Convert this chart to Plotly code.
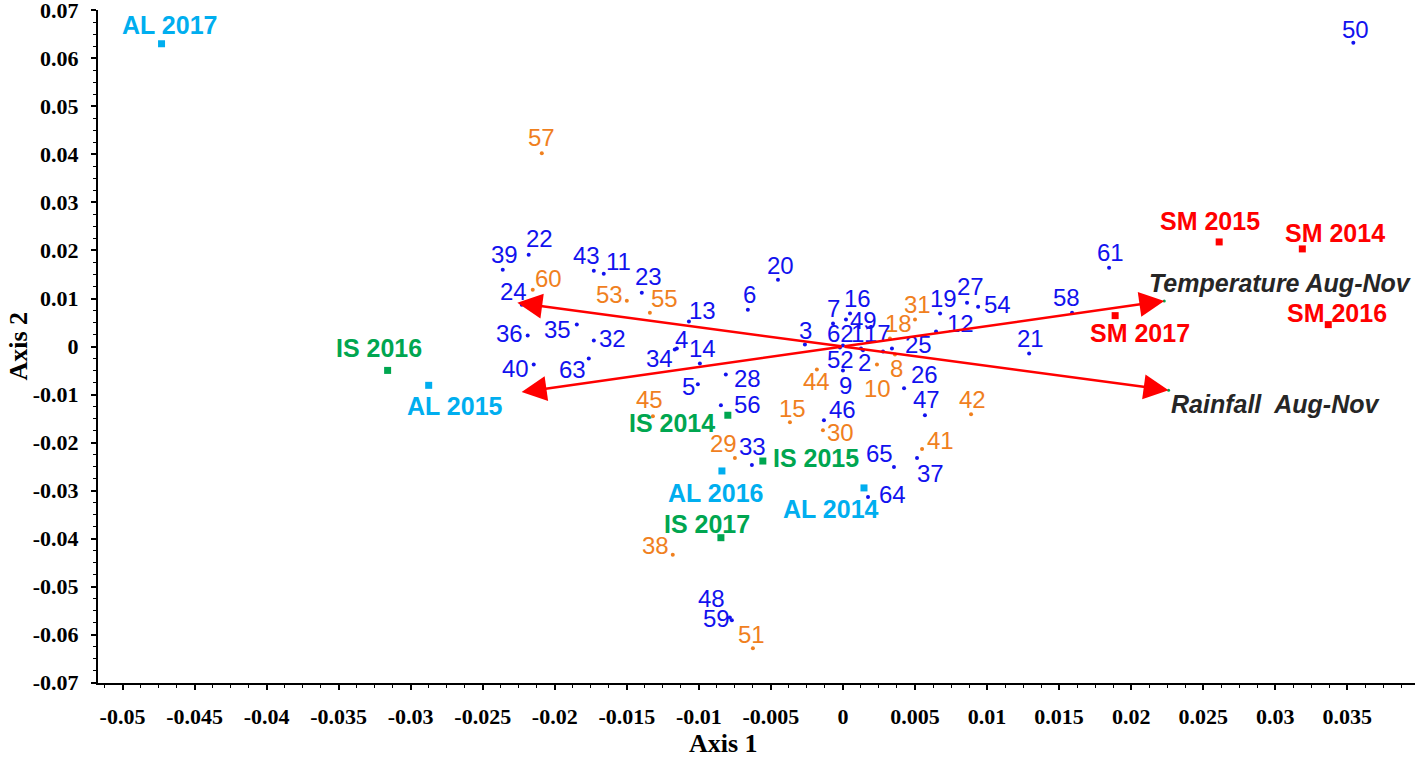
import plotly.graph_objects as go

# ---------------- data ----------------
blue_ids = ["1","2","3","4","5","6","7","9","11","12","13","14","16","17","19","20","21","22","23","24",
            "25","26","27","28","32","33","34","35","36","37","39","40","43","46","47","48","49","50","52","54",
            "56","58","59","61","62","63","64","65"]
blue_x = [0.00125,0.00139,-0.00264,-0.01153,-0.01007,-0.0066,-0.00069,0.0,-0.0166,0.00646,-0.01069,-0.00993,
          0.00049,0.00278,0.00674,-0.00451,0.01292,-0.02181,-0.01396,-0.02229,0.0034,0.00424,0.00861,-0.00813,
          -0.01729,-0.00632,-0.01167,-0.01847,-0.02188,0.00514,-0.02361,-0.02146,-0.01729,-0.00132,0.00569,
          -0.00785,0.00021,0.03542,-0.00021,0.00938,-0.00847,0.0159,-0.00771,0.01847,0.0,-0.01764,0.00174,0.00354]
blue_y = [-0.0004,-0.0008,0.0004,-0.0004,-0.00788,0.00768,0.00477,-0.00498,0.01515,0.00311,0.00519,-0.00353,
          0.00685,-0.00104,0.00685,0.0139,-0.00145,0.01909,0.0112,0.00871,-0.0004,-0.00871,0.00913,-0.00581,
          0.00124,-0.02469,-0.00062,0.00456,0.00228,-0.02324,0.01598,-0.00373,0.01577,-0.01535,-0.01432,
          -0.05643,0.0056,0.06328,-0.00021,0.0083,-0.01224,0.00705,-0.05705,0.01639,0.0002,-0.00249,-0.03133,-0.0251]

orange_ids = ["8","10","15","18","29","30","31","38","41","42","44","45","51","53","55","57","60"]
orange_x = [0.00361,0.00236,-0.00368,0.00326,-0.0075,-0.00139,0.005,-0.01181,0.00549,0.00889,-0.00181,
            -0.01319,-0.00625,-0.015,-0.0134,-0.0209,-0.02153]
orange_y = [-0.00166,-0.00373,-0.01577,0.00166,-0.02324,-0.01743,0.0056,-0.04336,-0.02137,-0.01411,-0.00477,
            -0.01452,-0.06286,0.00954,0.00705,0.04025,0.01183]

site_labels = ["SM 2014","SM 2015","SM 2016","SM 2017","IS 2014","IS 2015","IS 2016","IS 2017",
               "AL 2014","AL 2015","AL 2016","AL 2017"]
site_x = [0.03188,0.02611,0.03368,0.01889,-0.00799,-0.00556,-0.0316,-0.00847,0.00146,-0.02875,-0.0084,-0.04729]
site_y = [0.02033,0.02178,0.00456,0.00643,-0.01432,-0.02386,-0.00498,-0.03983,-0.02946,-0.00809,-0.02593,0.06307]

var_labels = ["Temperature Aug-Nov", "Rainfall\u00a0 Aug-Nov"]
var_x = [0.0223, 0.0226]
var_y = [0.0095, -0.0091]

x_tickvals = [-0.05,-0.045,-0.04,-0.035,-0.03,-0.025,-0.02,-0.015,-0.01,-0.005,0,0.005,0.01,0.015,0.02,0.025,0.03,0.035]
x_ticktext = ["-0.05","-0.045","-0.04","-0.035","-0.03","-0.025","-0.02","-0.015","-0.01","-0.005","0",
              "0.005","0.01","0.015","0.02","0.025","0.03","0.035"]
y_tickvals = [-0.07,-0.06,-0.05,-0.04,-0.03,-0.02,-0.01,0,0.01,0.02,0.03,0.04,0.05,0.06,0.07]
y_ticktext = ["-0.07","-0.06","-0.05","-0.04","-0.03","-0.02","-0.01","0","0.01","0.02","0.03","0.04",
              "0.05","0.06","0.07"]

# ---------------- label placement (pixel offsets, layout only) ----------------
label_offset = {
    "1":(-3,15),"2":(2,-12),"3":(1,14),"4":(5,9),"5":(-9,-2),"6":(2,15),"7":(0,15),"9":(3,-15),
    "11":(15,12),"12":(24,8),"13":(14,11),"14":(3,15),"16":(7,15),"17":(-6,18),"19":(3,15),"20":(3,14),
    "21":(1,15),"22":(11,16),"23":(7,16),"24":(-8,13),"25":(27,4),"26":(20,14),"27":(3,16),"28":(22,-4),
    "32":(19,2),"33":(1,19),"34":(-15,-9),"35":(-19,-5),"36":(-18,2),"37":(13,-15),"39":(2,15),
    "40":(-18,-4),"43":(-7,15),"46":(19,11),"47":(2,16),"48":(-18,19),"49":(18,-1),"50":(2,13),
    "52":(1,-12),"54":(19,2),"56":(27,1),"58":(-6,15),"59":(-15,2),"61":(1,15),"62":(-2,12),
    "63":(-16,-11),"64":(24,2),"65":(-14,13),
    "8":(2,-14),"10":(1,-24),"15":(3,14),"18":(9,15),"29":(-11,15),"30":(18,-2),"31":(2,15),
    "38":(-17,9),"41":(18,9),"42":(1,15),"44":(0,-12),"45":(-3,17),"51":(-1,14),"53":(-17,6),
    "55":(15,14),"57":(0,16),"60":(16,11),
    "SM 2014":(33,16),"SM 2015":(-9,21),"SM 2016":(9,12),"SM 2017":(25,-17),
    "IS 2014":(-56,-8),"IS 2015":(53,3),"IS 2016":(-9,22),"IS 2017":(-14,14),
    "AL 2014":(-33,-21),"AL 2015":(26,-21),"AL 2016":(-6,-22),"AL 2017":(8,19),
}
var_offset = [(-17, 18), (0, -14)]

BLUE = "#1212EE"
ORANGE = "#F0801E"
SITE_COLORS = {"SM": "#FF0000", "IS": "#00A650", "AL": "#00AEEF"}
RED = "#FF0000"
site_colors = [SITE_COLORS[s[:2]] for s in site_labels]

fig = go.Figure()
fig.add_trace(go.Scatter(x=blue_x, y=blue_y, mode="markers",
                         marker=dict(size=4, color=BLUE), hoverinfo="skip"))
fig.add_trace(go.Scatter(x=orange_x, y=orange_y, mode="markers",
                         marker=dict(size=4, color=ORANGE), hoverinfo="skip"))
fig.add_trace(go.Scatter(x=site_x, y=site_y, mode="markers",
                         marker=dict(size=7, color=site_colors, symbol="square"), hoverinfo="skip"))
fig.add_trace(go.Scatter(x=var_x, y=var_y, mode="markers",
                         marker=dict(size=3, color="#00A650"), hoverinfo="skip"))

annotations = []
num_font = dict(family="Liberation Sans, Arial", size=24)
for ids, xs, ys, col in [(blue_ids, blue_x, blue_y, BLUE), (orange_ids, orange_x, orange_y, ORANGE)]:
    for lab, xv, yv in zip(ids, xs, ys):
        dx, dy = label_offset[lab]
        annotations.append(dict(x=xv, y=yv, xref="x", yref="y", text=lab, showarrow=False,
                                xshift=dx, yshift=dy, font=dict(num_font, color=col)))
for lab, xv, yv, col in zip(site_labels, site_x, site_y, site_colors):
    dx, dy = label_offset[lab]
    annotations.append(dict(x=xv, y=yv, xref="x", yref="y", text=lab, showarrow=False,
                            xshift=dx, yshift=dy,
                            font=dict(family="Liberation Sans, Arial", size=25, color=col, weight="bold")))

# biplot arrows (double-headed, through the origin)
for vx, vy in zip(var_x, var_y):
    for sgn in (1, -1):
        annotations.append(dict(x=sgn * vx, y=sgn * vy, ax=0, ay=0, xref="x", yref="y",
                                axref="x", ayref="y", text="", showarrow=True,
                                arrowhead=2, arrowsize=2, arrowwidth=2.5, arrowcolor=RED,
                                standoff=0, startstandoff=0))
for lab, xv, yv, (dx, dy) in zip(var_labels, var_x, var_y, var_offset):
    annotations.append(dict(x=xv, y=yv, xref="x", yref="y", text=lab, showarrow=False,
                            xanchor="left", xshift=dx, yshift=dy,
                            font=dict(family="Liberation Sans, Arial", size=25, color="#262626",
                                      weight="bold", style="italic")))

title_font = dict(family="Liberation Serif, Times New Roman", size=26, color="black", weight="bold")
annotations.append(dict(x=0.4746, y=0, xref="paper", yref="paper", text="Axis 1", showarrow=False,
                        yanchor="middle", yshift=-60, font=title_font))
annotations.append(dict(x=-0.0607, y=0.5, xref="paper", yref="paper", text="Axis 2", showarrow=False,
                        textangle=-90, xanchor="center", yanchor="middle", font=title_font))

tick_font = dict(family="Liberation Serif, Times New Roman", size=22, color="black", weight="bold")
axis_common = dict(showgrid=False, zeroline=False, showline=True, linecolor="black", linewidth=2,
                   ticks="outside", ticklen=5, tickwidth=1.5, tickcolor="black", tickfont=tick_font,
                   tickmode="array", automargin=False, ticklabeloverflow="allow")

fig.update_layout(
    width=1418, height=758,
    margin=dict(l=98, r=3, t=10, b=75),
    plot_bgcolor="white", paper_bgcolor="white",
    showlegend=False,
    annotations=annotations,
    xaxis=dict(axis_common, range=[-0.0517, 0.0397], tickvals=x_tickvals, ticktext=x_ticktext,
               ticklabelstandoff=8,
               minor=dict(tickmode="linear", tick0=0, dtick=0.00125, ticks="outside", ticklen=3,
                          tickcolor="black", tickwidth=1, showgrid=False)),
    yaxis=dict(axis_common, range=[-0.0701, 0.0701], tickvals=y_tickvals, ticktext=y_ticktext,
               ticklabelstandoff=8,
               minor=dict(tickmode="linear", tick0=0, dtick=0.0025, ticks="outside", ticklen=3,
                          tickcolor="black", tickwidth=1, showgrid=False)),
)

fig.write_html("out.html", config={"displayModeBar": False},
               post_script="document.body.style.margin='0px';document.body.style.overflow='hidden';")
